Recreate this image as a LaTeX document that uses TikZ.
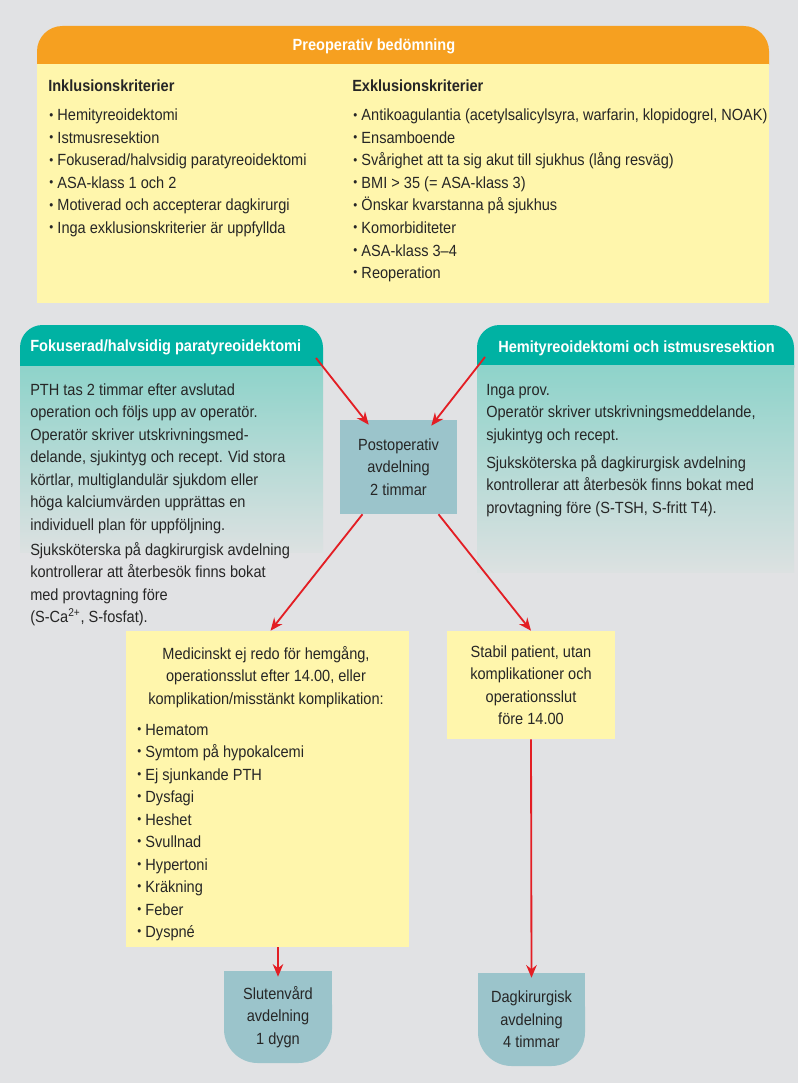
\documentclass[tikz,border=0pt]{standalone}
\usepackage{fontspec}
\setmainfont{Liberation Sans}[FakeStretch=0.9]
\usetikzlibrary{arrows.meta,calc}

\definecolor{bgcol}{HTML}{E1E2E4}
\definecolor{orng}{HTML}{F6A020}
\definecolor{yel}{HTML}{FFF6AC}
\definecolor{tealhd}{HTML}{00B2A3}
\definecolor{tealbd}{HTML}{8ED3CA}
\definecolor{fadebd}{HTML}{DCE1E1}
\definecolor{postcol}{HTML}{9BC4CB}
\definecolor{ink}{HTML}{262626}
\definecolor{arrred}{HTML}{E31E24}

\newcommand{\pxu}{0.025cm}
\newcommand{\blt}{{\fontsize{9}{9}\selectfont\raisebox{1.4pt}{•}}\hspace{3pt}}

\tikzset{
  txt/.style={inner sep=0pt, text=ink, font=\fontsize{11.5}{16}\selectfont},
  ttl/.style={txt, font=\fontsize{11.5}{16}\selectfont\bfseries},
  hdr/.style={ttl, text=white},
  bluebox/.style={txt, fill=postcol, align=center},
  ybox/.style={txt, fill=yel, align=center},
  roundbox/.style={txt, align=center},
  arr/.style={draw=arrred, line width=1.3pt, -{Stealth[length=9pt,width=7.5pt]}},
}

\begin{document}
\begin{tikzpicture}[x=0.025cm, y=-0.025cm]
  \fill[bgcol] (0,0) rectangle (798,1083);
  \useasboundingbox (0,0) rectangle (798,1083);

  % preoperativ bedomning
  \fill[orng, rounded corners=18] (37,26) rectangle (769,90);
  \fill[yel] (37,64) rectangle (769,303);
  \node[hdr, anchor=base] (preophead) at (374,51) {Preoperativ bedömning};
  \node[ttl, anchor=base west] (inkltitle) at (48,92) {Inklusionskriterier};
  \node[ttl, anchor=base west] (exkltitle) at (352,92) {Exklusionskriterier};
  \foreach \lbl [count=\i from 0] in {Hemityreoidektomi, Istmusresektion,
      Fokuserad/halvsidig paratyreoidektomi, ASA-klass 1 och 2,
      Motiverad och accepterar dagkirurgi, Inga exklusionskriterier är uppfyllda}
    \node[txt, anchor=base west] (inkl\i) at (49,121+22.5*\i) {\blt\lbl};
  \foreach \lbl [count=\i from 0] in {{Antikoagulantia (acetylsalicylsyra, warfarin, klopidogrel, NOAK)},
      Ensamboende, Svårighet att ta sig akut till sjukhus (lång resväg),
      BMI > 35 (= ASA-klass 3), Önskar kvarstanna på sjukhus, Komorbiditeter,
      ASA-klass 3–4, Reoperation}
    \node[txt, anchor=base west] (exkl\i) at (353,121+22.5*\i) {\blt\lbl};

  % fokuserad paratyreoidektomi
  \fill[tealhd, rounded corners=16] (20,325) rectangle (323,390);
  \shade[top color=tealbd, bottom color=fadebd] (20,366) rectangle (323,552);
  \node[hdr, anchor=base west] (fokhead) at (30,351) {Fokuserad/halvsidig paratyreoidektomi};
  \foreach \yy/\lbl [count=\i] in {395/PTH tas 2 timmar efter avslutad,
      417.5/operation och följs upp av operatör.,
      440/Operatör skriver utskrivningsmed-,
      462.5/{delande, sjukintyg och recept. Vid stora},
      485/{körtlar, multiglandulär sjukdom eller},
      507.5/höga kalciumvärden upprättas en,
      530/individuell plan för uppföljning.,
      555/Sjuksköterska på dagkirurgisk avdelning,
      577.5/kontrollerar att återbesök finns bokat,
      600/med provtagning före,
      622.5/{(S-Ca\textsuperscript{2+}, S-fosfat).}}
    \node[txt, anchor=base west] (fok\i) at (30,\yy) {\lbl};

  % hemityreoidektomi
  \fill[tealhd, rounded corners=16] (477,325) rectangle (794,390);
  \shade[top color=tealbd, bottom color=fadebd] (477,365) rectangle (794,572);
  \node[hdr, anchor=base west] (hemihead) at (498,352) {Hemityreoidektomi och istmusresektion};
  \foreach \yy/\lbl [count=\i] in {395/Inga prov.,
      417.5/{Operatör skriver utskrivningsmeddelande,},
      440/sjukintyg och recept.,
      468/Sjuksköterska på dagkirurgisk avdelning,
      490.5/kontrollerar att återbesök finns bokat med,
      513/{provtagning före (S-TSH, S-fritt T4).}}
    \node[txt, anchor=base west] (hemi\i) at (486,\yy) {\lbl};

  % flode
  \node[bluebox, minimum width=117*\pxu, minimum height=94*\pxu] (postop) at (398.5,467)
    {Postoperativ\\avdelning\\2 timmar};

  \node[ybox, minimum width=283*\pxu, minimum height=316*\pxu] (medic) at (267.5,789) {};
  \node[txt, anchor=base] (medic1) at (266,659) {Medicinskt ej redo för hemgång,};
  \node[txt, anchor=base] (medic2) at (266,681.5) {operationsslut efter 14.00, eller};
  \node[txt, anchor=base] (medic3) at (266,704) {komplikation/misstänkt komplikation:};
  \foreach \lbl [count=\i from 0] in {Hematom, Symtom på hypokalcemi, Ej sjunkande PTH,
      Dysfagi, Heshet, Svullnad, Hypertoni, Kräkning, Feber, Dyspné}
    \node[txt, anchor=base west] (sympt\i) at (137,735+22.5*\i) {\blt\lbl};

  \node[ybox, minimum width=168*\pxu, minimum height=108*\pxu] (stabil) at (531,685)
    {Stabil patient, utan\\komplikationer och\\operationsslut\\före 14.00};

  % rundade slutrutor
  \fill[postcol, rounded corners=24] (224,971) rectangle (332,1063);
  \fill[postcol] (224,971) rectangle (332,1017);
  \fill[postcol, rounded corners=24] (478,973) rectangle (585,1066);
  \fill[postcol] (478,973) rectangle (585,1019);
  \node[roundbox, minimum width=108*\pxu, minimum height=92*\pxu] (slut) at (278,1017)
    {Slutenvård\\avdelning\\1 dygn};
  \node[roundbox, minimum width=107*\pxu, minimum height=93*\pxu] (dag) at (531.5,1019.5)
    {Dagkirurgisk\\avdelning\\4 timmar};

  \coordinate (fokout) at (316,358);
  \coordinate (hemiout) at (485,357);

  \draw[arr] (fokout) -- ($(postop.north west)+(29,5)$);
  \draw[arr] (hemiout) -- ($(postop.north east)+(-26,6)$);
  \draw[arr] ($(postop.south)+(-36,0)$) -- ($(medic.north)+(3,0)$);
  \draw[arr] ($(postop.south)+(40,0)$) -- (stabil.north);
  \draw[arr] (slut.north |- medic.south) -- ($(slut.north)+(0,6)$);
  \draw[arr] (stabil.south) -- ($(dag.north)+(0,5)$);
\end{tikzpicture}
\end{document}
